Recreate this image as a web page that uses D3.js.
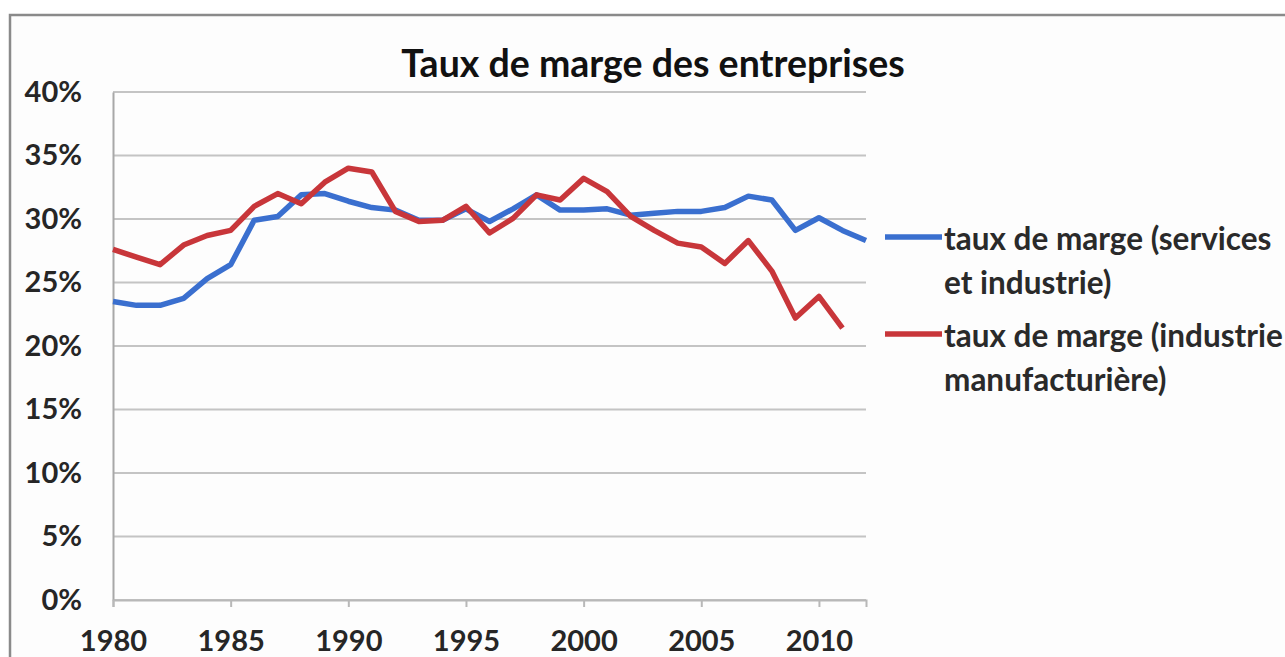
<!DOCTYPE html>
<html><head><meta charset="utf-8">
<script src="https://cdn.jsdelivr.net/npm/d3@7/dist/d3.min.js"></script>
<style>body{margin:0;background:#fff;}svg{display:block;}</style>
</head><body>
<svg id="c" width="1285" height="657"></svg>
<script>
const years = d3.range(1980, 2013);
const servicesIndustrie = [23.5,23.2,23.2,23.75,25.3,26.4,29.9,30.2,31.9,32.0,31.4,30.9,30.7,29.9,29.9,30.8,29.8,30.8,31.9,30.7,30.7,30.8,30.3,30.45,30.6,30.6,30.9,31.8,31.5,29.1,30.1,29.1,28.3];
const industrieManuf = [27.6,27.0,26.4,27.95,28.7,29.1,31.0,32.0,31.2,32.9,34.0,33.7,30.6,29.8,29.9,31.0,28.9,30.05,31.9,31.5,33.2,32.15,30.2,29.1,28.1,27.8,26.5,28.3,25.9,22.2,23.9,21.4];
const yTicks = [0,5,10,15,20,25,30,35,40];
const xTicks = [1980,1985,1990,1995,2000,2005,2010];
const title = "Taux de marge des entreprises";
const seriesNames = [["taux de marge (services","et industrie)"],["taux de marge (industrie","manufacturière)"]];
const colors = ["#3a6fcf","#c8363a"];

const svg = d3.select("#c");
const font = "Lato, 'Open Sans', sans-serif";
const x = d3.scaleLinear().domain([1980,2012]).range([113,866]);
const y = d3.scaleLinear().domain([0,40]).range([600,92]);

// frame
svg.append("rect").attr("x",10).attr("y",15).attr("width",1290).attr("height",660)
  .attr("fill","#fdfdfd").attr("stroke","#8a8a8a").attr("stroke-width",2.5);

// gridlines
svg.append("g").selectAll("line").data(yTicks).join("line")
  .attr("x1",x(1980)).attr("x2",x(2012)).attr("y1",d=>y(d)).attr("y2",d=>y(d))
  .attr("stroke","#c4c4c4").attr("stroke-width",2);

// y axis
const yAxis = svg.append("g").attr("transform",`translate(${x(1980)},0)`)
  .call(d3.axisLeft(y).tickValues(yTicks).tickFormat(d=>d+"%").tickSize(0).tickPadding(31));
yAxis.select(".domain").attr("stroke","#a8a8a8").attr("stroke-width",2);
yAxis.selectAll("text").attr("font-family",font).attr("font-weight","bold").attr("font-size",29).attr("fill","#262626");

// x axis
const xAxis = svg.append("g").attr("transform",`translate(0,${y(0)})`)
  .call(d3.axisBottom(x).tickValues(xTicks).tickFormat(d3.format("d")).tickSize(7).tickPadding(23));
xAxis.select(".domain").attr("stroke","#b8b8b8").attr("stroke-width",2);
xAxis.selectAll(".tick line").attr("stroke","#b8b8b8").attr("stroke-width",2);
xAxis.selectAll("text").attr("font-family",font).attr("font-weight","bold").attr("font-size",29).attr("fill","#262626");

// lines
const line = d3.line().x((d,i)=>x(years[i])).y(d=>y(d));
[servicesIndustrie, industrieManuf].forEach((s,k)=>{
  svg.append("path").datum(s).attr("d",line).attr("fill","none")
    .attr("stroke",colors[k]).attr("stroke-width",5.5).attr("stroke-linejoin","round");
});

// title
svg.append("text").attr("x",653).attr("y",77).attr("text-anchor","middle")
  .attr("font-family",font).attr("font-weight","bold").attr("font-size",37.5).attr("fill","#111")
  .text(title);

// legend
const legY = [237, 334];
seriesNames.forEach((lines,k)=>{
  svg.append("line").attr("x1",885).attr("x2",942).attr("y1",legY[k]).attr("y2",legY[k])
    .attr("stroke",colors[k]).attr("stroke-width",5.5);
  lines.forEach((t,j)=>{
    svg.append("text").attr("x",944).attr("y",legY[k]+13+j*44)
      .attr("font-family",font).attr("font-weight","bold").attr("font-size",31.5).attr("fill","#2a2a2a").text(t);
  });
});
</script>
</body></html>
